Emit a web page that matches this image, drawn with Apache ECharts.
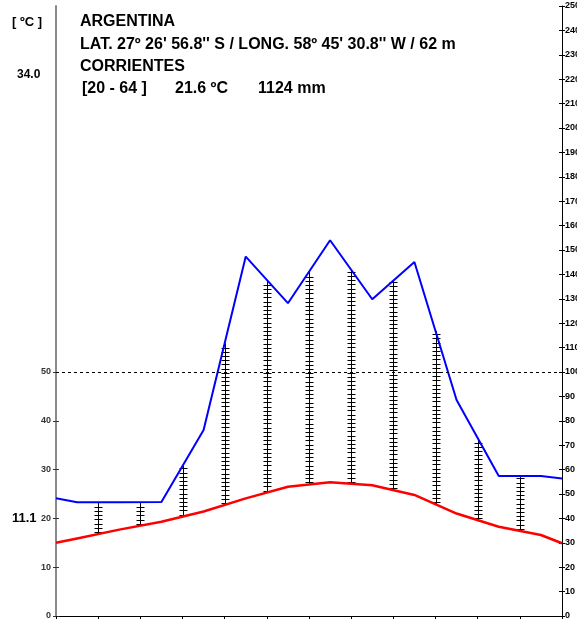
<!DOCTYPE html>
<html>
<head>
<meta charset="utf-8">
<title>Climograma Corrientes</title>
<script src="https://cdn.jsdelivr.net/npm/echarts@6/dist/echarts.min.js"></script>
<style>
  html, body { margin: 0; padding: 0; background: #fff; }
  #chart { width: 577px; height: 619px; }
</style>
</head>
<body>
<div id="chart"></div>
<script>
// Monthly means, July to June (southern hemisphere layout)
const tempC = [15.9, 17.7, 19.3, 21.4, 24.1, 26.5, 27.4, 26.8, 24.8, 21.0, 18.3, 16.6];
const precipMm = [46.6, 46.6, 46.7, 76.2, 147.3, 128.2, 154.0, 129.8, 145.1, 88.5, 57.4, 57.4];
// Curve values where the year axis starts and ends
const tempEdges = [15.0, 14.9];
const precipEdges = [48.3, 56.4];
// Labelled temperature ticks
const tempTicks = [0, 10, 20, 30, 40, 50];
// Station header
const country = 'ARGENTINA';
const coords = "LAT. 27º 26' 56.8'' S / LONG. 58º 45' 30.8'' W / 62 m";
const station = 'CORRIENTES';
const period = '[20 - 64 ]';
const meanTemp = '21.6 ºC';
const totalPrecip = '1124 mm';
const absMax = '34.0';
const coldMin = '11.1';

const FONT = "'Liberation Sans', Arial, sans-serif";

function curve(values, edges) {
  const pts = [[0, edges[0]]];
  values.forEach((v, i) => pts.push([i + 0.5, v]));
  pts.push([values.length, edges[1]]);
  return pts;
}

// Humid-period hatching at month boundaries: temperature up to precipitation (2 mm = 1 ºC)
const hatch = [];
for (let b = 1; b < tempC.length; b++) {
  const t = (tempC[b - 1] + tempC[b]) / 2;
  const p = (precipMm[b - 1] + precipMm[b]) / 4;
  if (p > t) hatch.push([b, t, p]);
}

const chart = echarts.init(document.getElementById('chart'), null, { renderer: 'canvas' });

const tickLabelStyle = { fontFamily: FONT, fontSize: 9, fontWeight: 'bold' };

chart.setOption({
  animation: false,
  backgroundColor: '#fff',
  grid: { left: 56, right: 15, top: 6, bottom: 3, containLabel: false, outerBoundsMode: 'none' },
  xAxis: {
    type: 'value', min: 0, max: 12, interval: 1,
    axisLine: { lineStyle: { color: '#000', width: 1 } },
    axisTick: { length: 4, lineStyle: { color: '#000' } },
    axisLabel: { show: false },
    splitLine: { show: false }
  },
  yAxis: [
    {
      type: 'value', position: 'left', min: 0, max: 125,
      axisLine: { show: true, lineStyle: { color: '#8a8a8a', width: 2 } },
      axisTick: { show: true, length: 3, customValues: tempTicks, lineStyle: { color: '#333' } },
      axisLabel: Object.assign({ customValues: tempTicks, color: '#333', margin: 5 }, tickLabelStyle),
      splitLine: { show: false }
    },
    {
      type: 'value', position: 'right', min: 0, max: 250, interval: 10,
      axisLine: { show: true, lineStyle: { color: '#000', width: 1 } },
      axisTick: { show: true, length: 3, lineStyle: { color: '#000' } },
      axisLabel: Object.assign({ color: '#000', margin: 3 }, tickLabelStyle),
      splitLine: { show: false }
    },
    {
      type: 'value', position: 'left', min: 0, max: 125,
      axisLine: { show: false },
      axisTick: { show: true, inside: true, length: 3, customValues: tempTicks, lineStyle: { color: '#333' } },
      axisLabel: { show: false },
      splitLine: { show: false }
    },
    {
      type: 'value', position: 'right', min: 0, max: 250, interval: 10,
      axisLine: { show: false },
      axisTick: { show: true, inside: true, length: 3, lineStyle: { color: '#000' } },
      axisLabel: { show: false },
      splitLine: { show: false }
    }
  ],
  series: [
    {
      type: 'custom',
      name: 'humid',
      xAxisIndex: 0, yAxisIndex: 0,
      data: hatch,
      z: 1,
      silent: true,
      renderItem: function (params, api) {
        const lo = api.coord([api.value(0), api.value(1)]);
        const hi = api.coord([api.value(0), api.value(2)]);
        const x = Math.round(lo[0]) + 0.5;
        const children = [{
          type: 'line',
          shape: { x1: x, y1: lo[1], x2: x, y2: hi[1] },
          style: { stroke: '#000', lineWidth: 1 }
        }];
        for (let y = lo[1] - 2; y > hi[1] + 1; y -= 4.2) {
          const yy = Math.round(y) + 0.5;
          children.push({
            type: 'line',
            shape: { x1: x - 4, y1: yy, x2: x + 4, y2: yy },
            style: { stroke: '#000', lineWidth: 1 }
          });
        }
        return { type: 'group', children: children };
      }
    },
    {
      type: 'line',
      name: 'precip',
      yAxisIndex: 1,
      data: curve(precipMm, precipEdges),
      symbol: 'none',
      z: 3,
      lineStyle: { color: '#0000ff', width: 2 }
    },
    {
      type: 'line',
      name: 'temp',
      yAxisIndex: 0,
      data: curve(tempC, tempEdges),
      symbol: 'none',
      z: 4,
      lineStyle: { color: '#ff0000', width: 2.5 },
      markLine: {
        silent: true,
        symbol: 'none',
        label: { show: false },
        lineStyle: { color: '#000', type: [3, 3], width: 1 },
        data: [{ yAxis: 50 }]
      }
    }
  ],
  graphic: [
    { type: 'text', x: 12, y: 22, style: { text: '[ ºC ]', font: 'bold 13px ' + FONT, fill: '#000', verticalAlign: 'middle' } },
    { type: 'text', x: 17, y: 75, style: { text: absMax, font: 'bold 12px ' + FONT, fill: '#000', verticalAlign: 'middle' } },
    { type: 'text', x: 12, y: 518, style: { text: coldMin, font: 'bold 13px ' + FONT, fill: '#000', verticalAlign: 'middle' } },
    { type: 'text', x: 80, y: 22, style: { text: country, font: 'bold 16px ' + FONT, fill: '#000', verticalAlign: 'middle' } },
    { type: 'text', x: 80, y: 45, style: { text: coords, font: 'bold 16px ' + FONT, fill: '#000', verticalAlign: 'middle' } },
    { type: 'text', x: 80, y: 67, style: { text: station, font: 'bold 16px ' + FONT, fill: '#000', verticalAlign: 'middle' } },
    { type: 'text', x: 82, y: 89, style: { text: period, font: 'bold 16px ' + FONT, fill: '#000', verticalAlign: 'middle' } },
    { type: 'text', x: 175, y: 89, style: { text: meanTemp, font: 'bold 16px ' + FONT, fill: '#000', verticalAlign: 'middle' } },
    { type: 'text', x: 258, y: 89, style: { text: totalPrecip, font: 'bold 16px ' + FONT, fill: '#000', verticalAlign: 'middle' } }
  ]
});
</script>
</body>
</html>
